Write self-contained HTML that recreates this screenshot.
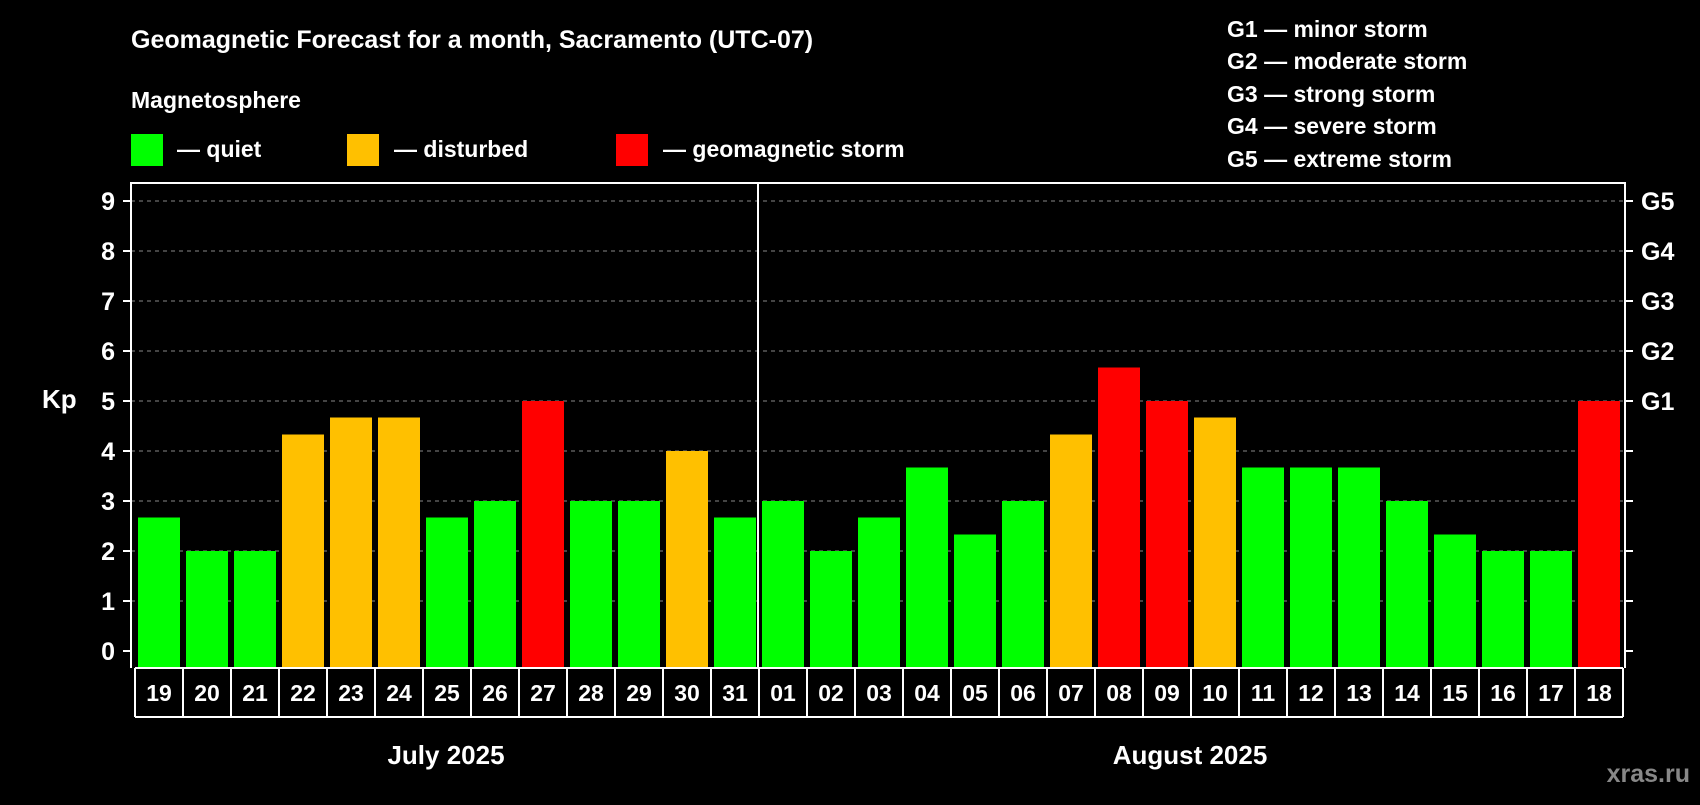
<!DOCTYPE html>
<html><head><meta charset="utf-8"><style>
body{margin:0;background:#000;}
svg text{font-family:"Liberation Sans",Arial,sans-serif;font-weight:bold;fill:#fff;}
</style></head><body>
<svg id="chart" width="1700" height="800" xmlns="http://www.w3.org/2000/svg">
<rect width="1700" height="800" fill="#000"/>
<text x="131" y="48" font-size="25">Geomagnetic Forecast for a month, Sacramento (UTC-07)</text>
<text x="131" y="108" font-size="23">Magnetosphere</text>
<rect x="131" y="134" width="32" height="32" fill="#00ff00"/>
<text x="177" y="157" font-size="23">— quiet</text>
<rect x="347" y="134" width="32" height="32" fill="#ffc000"/>
<text x="394" y="157" font-size="23">— disturbed</text>
<rect x="616" y="134" width="32" height="32" fill="#ff0000"/>
<text x="663" y="157" font-size="23">— geomagnetic storm</text>
<g font-size="23">
<text x="1227" y="37">G1 — minor storm</text>
<text x="1227" y="69">G2 — moderate storm</text>
<text x="1227" y="102">G3 — strong storm</text>
<text x="1227" y="134">G4 — severe storm</text>
<text x="1227" y="167">G5 — extreme storm</text>
</g>
<text x="42" y="408" font-size="26">Kp</text>
<text x="1690" y="782" font-size="25" text-anchor="end" style="fill:#888">xras.ru</text>
<text x="446" y="764" font-size="26" text-anchor="middle">July 2025</text>
<text x="1190" y="764" font-size="26" text-anchor="middle">August 2025</text>
<g id="g"></g>
</svg>
<script>
const days=["19","20","21","22","23","24","25","26","27","28","29","30","31","01","02","03","04","05","06","07","08","09","10","11","12","13","14","15","16","17","18"];
const kp=[2.67,2,2,4.33,4.67,4.67,2.67,3,5,3,3,4,2.67,3,2,2.67,3.67,2.33,3,4.33,5.67,5,4.67,3.67,3.67,3.67,3,2.33,2,2,5];
const yTicks=[0,1,2,3,4,5,6,7,8,9];
const gLabels=["G1","G2","G3","G4","G5"];
const NS="http://www.w3.org/2000/svg";
const g=document.getElementById('g');
const L=131,R=1625,T=183,B=668;
const y=v=>651-v*50;
const x=i=>138+i*48;
function mk(t,a){const e=document.createElementNS(NS,t);for(const k in a)e.setAttribute(k,a[k]);g.appendChild(e);return e;}
yTicks.forEach(v=>{
  if(v>0){const gl=mk('line',{x1:L,x2:R,y1:y(v),y2:y(v),stroke:'#888','stroke-dasharray':'4 4','stroke-width':1});
  
  }
  mk('line',{x1:L-8,x2:L,y1:y(v),y2:y(v),stroke:'#fff','stroke-width':2});
  mk('line',{x1:R,x2:R+8,y1:y(v),y2:y(v),stroke:'#fff','stroke-width':2});
  const t=mk('text',{x:115,y:y(v)+9,'font-size':25,'text-anchor':'end'});t.textContent=v;
  
  
});
gLabels.forEach((s,i)=>{const t=mk('text',{x:1641,y:y(5+i)+9,'font-size':25});t.textContent=s;
  
  });
kp.forEach((v,i)=>{
  const c=v>=5?'#ff0000':v>=4?'#ffc000':'#00ff00';
  const r=mk('rect',{x:x(i),y:y(v),width:42,height:B-y(v),fill:c});
  
  
});
mk('path',{d:`M${L} ${B}V${T}H${R}V${B}`,fill:'none',stroke:'#fff','stroke-width':2});
mk('line',{x1:x(13)-4,x2:x(13)-4,y1:T,y2:B,stroke:'#fff','stroke-width':2});
mk('line',{x1:x(0)-3,x2:x(days.length)-3,y1:B,y2:B,stroke:'#fff','stroke-width':2});
mk('line',{x1:x(0)-3,x2:x(days.length)-3,y1:717,y2:717,stroke:'#fff','stroke-width':2});
days.forEach((d,i)=>{
  mk('line',{x1:x(i)-3,x2:x(i)-3,y1:B,y2:717,stroke:'#fff','stroke-width':2});
  const t=mk('text',{x:x(i)+21,y:701,'font-size':23,'text-anchor':'middle'});t.textContent=d;
  
  
});
mk('line',{x1:x(days.length)-3,x2:x(days.length)-3,y1:B,y2:717,stroke:'#fff','stroke-width':2});
</script>
</body></html>
